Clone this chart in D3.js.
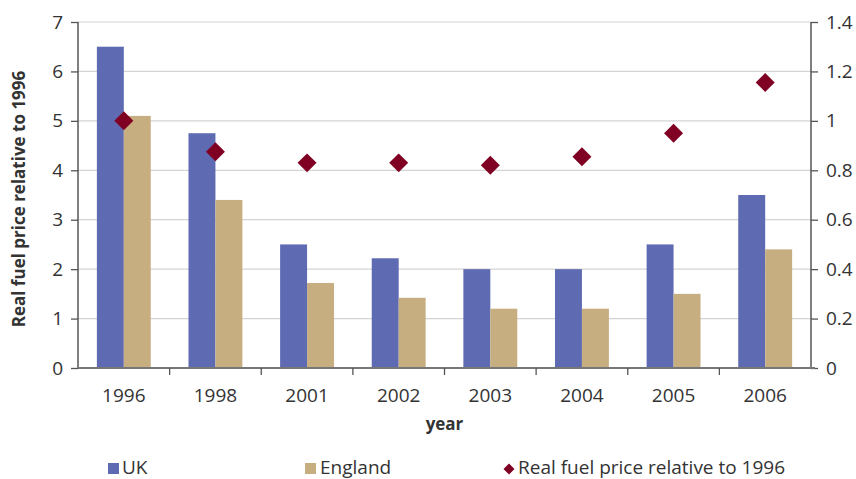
<!DOCTYPE html>
<html>
<head>
<meta charset="utf-8">
<script src="https://cdn.jsdelivr.net/npm/d3@7"></script>
<style>
  body { margin: 0; background: #fff; }
  text { font-family: "Open Sans", "Noto Sans", sans-serif; fill: #333; }
</style>
</head>
<body>
<div id="chart"></div>
<script>
// data
let years = ["1996", "1998", "2001", "2002", "2003", "2004", "2005", "2006"],
    ukValues = [6.5, 4.75, 2.5, 2.22, 2.0, 2.0, 2.5, 3.5],
    englandValues = [5.1, 3.4, 1.72, 1.42, 1.2, 1.2, 1.5, 2.4],
    fuelPrice = [1.0, 0.875, 0.83, 0.83, 0.82, 0.855, 0.95, 1.155],
    leftTicks = [0, 1, 2, 3, 4, 5, 6, 7],
    rightTicks = [0, 0.2, 0.4, 0.6, 0.8, 1, 1.2, 1.4],
    seriesNames = ["UK", "England"];

let width = 856, height = 479,
    margin = {top: 22, right: 45, bottom: 111, left: 78},
    innerW = width - margin.left - margin.right,
    innerH = height - margin.top - margin.bottom;

let colors = {UK: "#5e6bb2", England: "#c7ae81", fuel: "#7f0022"};

let svg = d3.select("#chart").append("svg")
  .attr("width", width)
  .attr("height", height);

let g = svg.append("g")
  .attr("transform", "translate(" + margin.left + "," + margin.top + ")");

let xScale = d3.scaleBand().domain(years).range([0, innerW]).padding(0);
let xSub = d3.scaleBand().domain(seriesNames).range([0, xScale.bandwidth()])
  .paddingInner(0).paddingOuter(0.7);
let yLeft = d3.scaleLinear().domain([0, 7]).range([innerH, 0]);
let yRight = d3.scaleLinear().domain([0, 1.4]).range([innerH, 0]);

// gridlines
g.append("g").selectAll("line").data(leftTicks.slice(1)).enter().append("line")
  .attr("x1", 0).attr("x2", innerW)
  .attr("y1", d => yLeft(d)).attr("y2", d => yLeft(d))
  .attr("stroke", "#d4d4d4").attr("stroke-width", 1.2);

// bars
let rows = years.map((y, i) => ({year: y, UK: ukValues[i], England: englandValues[i]}));
g.append("g").selectAll("g").data(rows).enter().append("g")
  .attr("transform", d => "translate(" + xScale(d.year) + ",0)")
  .selectAll("rect").data(d => seriesNames.map(k => ({key: k, value: d[k]})))
  .enter().append("rect")
  .attr("x", d => xSub(d.key))
  .attr("width", xSub.bandwidth())
  .attr("y", d => yLeft(d.value))
  .attr("height", d => innerH - yLeft(d.value))
  .attr("fill", d => colors[d.key]);

// diamonds
let diamond = d3.symbol().type(d3.symbolSquare).size(180);
g.append("g").selectAll("path").data(fuelPrice).enter().append("path")
  .attr("d", diamond)
  .attr("transform", (d, i) => "translate(" + (xScale(years[i]) + xScale.bandwidth() / 2) + "," + yRight(d) + ") rotate(45)")
  .attr("fill", colors.fuel);

// left axis
let leftAxis = g.append("g")
  .call(d3.axisLeft(yLeft).tickValues(leftTicks).tickSize(7).tickPadding(8).tickFormat(d3.format("d")));
leftAxis.select(".domain").attr("stroke", "#555").attr("stroke-width", 1.5).attr("d", "M0,0V" + innerH);
leftAxis.selectAll(".tick line").attr("stroke", "#555").attr("stroke-width", 1.3);
leftAxis.selectAll("text").style("font-size", "19px").attr("fill", "#333");

// right axis
let rightAxis = g.append("g").attr("transform", "translate(" + innerW + ",0)")
  .call(d3.axisRight(yRight).tickValues(rightTicks).tickSize(7).tickPadding(8).tickFormat(d3.format("~g")));
rightAxis.select(".domain").attr("stroke", "#555").attr("stroke-width", 1.5).attr("d", "M0,0V" + innerH);
rightAxis.selectAll(".tick line").attr("stroke", "#555").attr("stroke-width", 1.3);
rightAxis.selectAll("text").style("font-size", "19px").attr("fill", "#333");

// bottom axis: separators between categories
let bottom = g.append("g").attr("transform", "translate(0," + innerH + ")");
bottom.append("line").attr("x1", 0).attr("x2", innerW + 4)
  .attr("stroke", "#777").attr("stroke-width", 1.8);
bottom.selectAll(".sep").data(years.slice(1)).enter().append("line")
  .attr("x1", d => xScale(d)).attr("x2", d => xScale(d))
  .attr("y1", 0).attr("y2", 7)
  .attr("stroke", "#555").attr("stroke-width", 1.3);
bottom.selectAll(".lbl").data(years).enter().append("text")
  .attr("x", d => xScale(d) + xScale.bandwidth() / 2)
  .attr("y", 34)
  .attr("text-anchor", "middle")
  .style("font-size", "19px")
  .text(d => d);

// axis titles
svg.append("text")
  .attr("transform", "translate(25," + (margin.top + innerH / 2 + 4) + ") rotate(-90)")
  .attr("text-anchor", "middle")
  .style("font-size", "17px").style("font-weight", "bold")
  .attr("fill", "#222")
  .text("Real fuel price relative to 1996");

svg.append("text")
  .attr("x", margin.left + innerW / 2)
  .attr("y", 430)
  .attr("text-anchor", "middle")
  .style("font-size", "17px").style("font-weight", "bold")
  .attr("fill", "#222")
  .text("year");

// legend
let legendY = 468;
let legend = svg.append("g");
legend.append("rect").attr("x", 108).attr("y", legendY - 5).attr("width", 11).attr("height", 11).attr("fill", colors.UK);
legend.append("text").attr("x", 122).attr("y", legendY + 6).style("font-size", "19px").text("UK");
legend.append("rect").attr("x", 305).attr("y", legendY - 5).attr("width", 11).attr("height", 11).attr("fill", colors.England);
legend.append("text").attr("x", 320).attr("y", legendY + 6).style("font-size", "19px").text("England");
legend.append("path").attr("d", d3.symbol().type(d3.symbolSquare).size(60))
  .attr("transform", "translate(509," + (legendY + 1) + ") rotate(45)").attr("fill", colors.fuel);
legend.append("text").attr("x", 518).attr("y", legendY + 6).style("font-size", "19px").text("Real fuel price relative to 1996");
</script>
</body>
</html>
